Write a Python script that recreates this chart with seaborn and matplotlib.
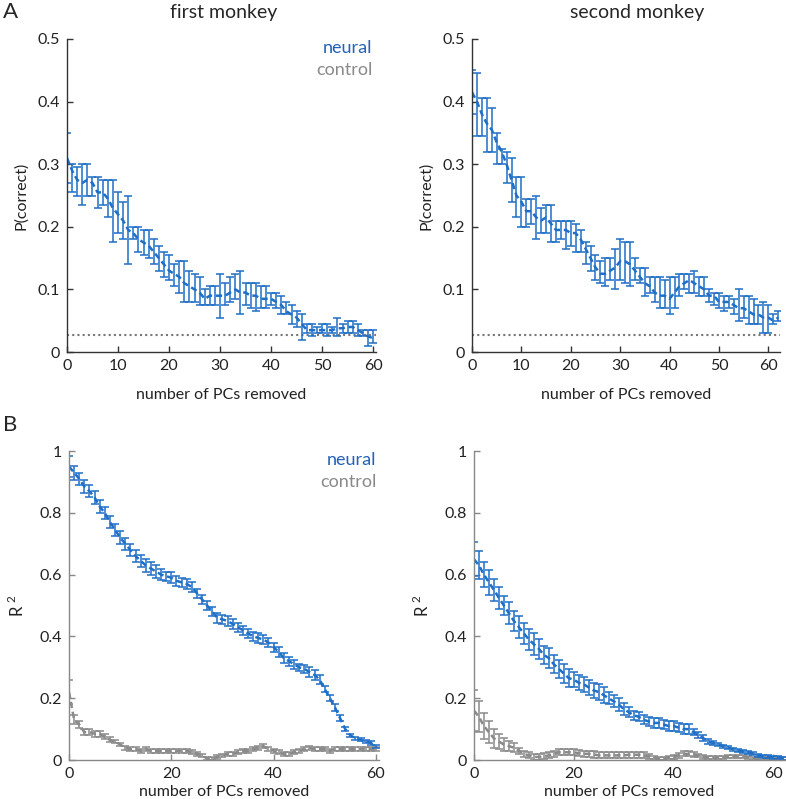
import numpy as np
import pandas as pd
import matplotlib
matplotlib.use("Agg")
import matplotlib.pyplot as plt
import seaborn as sns

sns.set_style("ticks")
plt.rcParams['font.family'] = ['Lato', 'DejaVu Sans']
plt.rcParams['mathtext.fontset'] = 'custom'
plt.rcParams['mathtext.rm'] = 'Lato'

BLUE = "#1f6fc6"
GRAY = "#8a8a8a"
CHANCE = 1 / 36

# ==================== A: P(correct), first monkey ====================
pc1_mean = [0.31, 0.29, 0.275, 0.27, 0.275, 0.27, 0.255, 0.255, 0.245, 0.23,
            0.22, 0.21, 0.195, 0.19, 0.18, 0.175, 0.17, 0.16, 0.15, 0.14,
            0.13, 0.125, 0.12, 0.11, 0.105, 0.10, 0.095, 0.085, 0.09, 0.09,
            0.09, 0.09, 0.095, 0.10, 0.095, 0.095, 0.09, 0.09, 0.085, 0.085,
            0.085, 0.08, 0.075, 0.065, 0.06, 0.055, 0.045, 0.035, 0.035, 0.035,
            0.035, 0.035, 0.035, 0.038, 0.038, 0.04, 0.04, 0.035, 0.03, 0.025,
            0.022]
pc1_lo = [0.27, 0.255, 0.25, 0.235, 0.25, 0.25, 0.23, 0.235, 0.215, 0.175,
          0.19, 0.18, 0.14, 0.18, 0.16, 0.155, 0.15, 0.14, 0.13, 0.12,
          0.115, 0.105, 0.095, 0.08, 0.08, 0.08, 0.075, 0.075, 0.075, 0.075,
          0.055, 0.075, 0.08, 0.085, 0.06, 0.075, 0.07, 0.065, 0.07, 0.07,
          0.075, 0.07, 0.06, 0.06, 0.045, 0.04, 0.02, 0.03, 0.025, 0.03,
          0.03, 0.025, 0.03, 0.025, 0.03, 0.03, 0.03, 0.025, 0.025, 0.01,
          0.015]
pc1_hi = [0.35, 0.30, 0.295, 0.30, 0.30, 0.28, 0.28, 0.275, 0.275, 0.275,
          0.255, 0.24, 0.25, 0.20, 0.20, 0.195, 0.195, 0.18, 0.17, 0.16,
          0.155, 0.14, 0.145, 0.145, 0.13, 0.125, 0.12, 0.10, 0.105, 0.105,
          0.125, 0.11, 0.12, 0.125, 0.13, 0.11, 0.11, 0.11, 0.105, 0.105,
          0.095, 0.095, 0.09, 0.08, 0.075, 0.065, 0.06, 0.045, 0.045, 0.04,
          0.045, 0.045, 0.04, 0.055, 0.045, 0.05, 0.05, 0.045, 0.035, 0.035,
          0.035]

# ==================== A: P(correct), second monkey ====================
pc2_mean = [0.415, 0.40, 0.38, 0.365, 0.355, 0.335, 0.32, 0.30, 0.275, 0.25,
            0.24, 0.225, 0.225, 0.215, 0.21, 0.215, 0.205, 0.195, 0.195, 0.195,
            0.19, 0.19, 0.18, 0.165, 0.15, 0.135, 0.125, 0.125, 0.13, 0.135,
            0.145, 0.145, 0.14, 0.13, 0.12, 0.11, 0.105, 0.095, 0.09, 0.09,
            0.085, 0.095, 0.105, 0.11, 0.115, 0.11, 0.105, 0.10, 0.09, 0.09,
            0.08, 0.08, 0.08, 0.075, 0.07, 0.07, 0.065, 0.06, 0.06, 0.055,
            0.055, 0.05, 0.055]
pc2_lo = [0.38, 0.345, 0.345, 0.32, 0.32, 0.30, 0.30, 0.27, 0.24, 0.215,
          0.20, 0.20, 0.205, 0.18, 0.19, 0.19, 0.175, 0.175, 0.18, 0.165,
          0.17, 0.16, 0.16, 0.14, 0.13, 0.115, 0.11, 0.105, 0.115, 0.10,
          0.115, 0.11, 0.105, 0.115, 0.11, 0.09, 0.095, 0.08, 0.07, 0.07,
          0.06, 0.07, 0.09, 0.10, 0.095, 0.095, 0.09, 0.09, 0.08, 0.075,
          0.07, 0.065, 0.07, 0.06, 0.05, 0.055, 0.045, 0.045, 0.045, 0.03,
          0.03, 0.045, 0.05]
pc2_hi = [0.45, 0.445, 0.405, 0.405, 0.39, 0.35, 0.325, 0.32, 0.31, 0.28,
          0.28, 0.245, 0.245, 0.25, 0.23, 0.235, 0.235, 0.21, 0.21, 0.21,
          0.21, 0.205, 0.195, 0.175, 0.17, 0.155, 0.145, 0.15, 0.15, 0.165,
          0.18, 0.175, 0.175, 0.15, 0.135, 0.135, 0.12, 0.12, 0.12, 0.115,
          0.12, 0.12, 0.125, 0.125, 0.125, 0.13, 0.12, 0.12, 0.10, 0.095,
          0.095, 0.09, 0.09, 0.085, 0.10, 0.09, 0.09, 0.085, 0.075, 0.08,
          0.075, 0.06, 0.065]

# ==================== B: R^2, first monkey ====================
r1_neural = [0.95, 0.93, 0.91, 0.885, 0.87, 0.85, 0.82, 0.80, 0.77, 0.745,
             0.72, 0.70, 0.68, 0.66, 0.645, 0.63, 0.62, 0.61, 0.60, 0.595,
             0.59, 0.58, 0.575, 0.57, 0.56, 0.54, 0.52, 0.50, 0.48, 0.46,
             0.455, 0.45, 0.44, 0.43, 0.42, 0.41, 0.40, 0.395, 0.39, 0.38,
             0.365, 0.35, 0.33, 0.32, 0.31, 0.30, 0.295, 0.285, 0.275, 0.26,
             0.23, 0.20, 0.17, 0.135, 0.10, 0.08, 0.07, 0.065, 0.06, 0.055,
             0.045]
r1_neural_err = [0.033, 0.023, 0.02, 0.022, 0.02, 0.02, 0.02, 0.02, 0.02, 0.02,
                 0.02, 0.02, 0.02, 0.02, 0.02, 0.02, 0.02, 0.02, 0.018, 0.015,
                 0.017, 0.017, 0.015, 0.015, 0.017, 0.015, 0.015, 0.015, 0.015, 0.015,
                 0.015, 0.015, 0.015, 0.015, 0.015, 0.015, 0.015, 0.015, 0.015, 0.015,
                 0.015, 0.015, 0.015, 0.015, 0.015, 0.012, 0.012, 0.015, 0.015, 0.015,
                 0.01, 0.01, 0.01, 0.01, 0.006, 0.005, 0.005, 0.005, 0.005, 0.005,
                 0.005]
r1_control = [0.22, 0.13, 0.115, 0.09, 0.09, 0.085, 0.085, 0.075, 0.065, 0.06,
              0.05, 0.04, 0.035, 0.035, 0.03, 0.035, 0.03, 0.03, 0.03, 0.03,
              0.03, 0.03, 0.03, 0.03, 0.025, 0.02, 0.015, 0.005, 0.005, 0.01,
              0.015, 0.02, 0.02, 0.025, 0.03, 0.03, 0.035, 0.04, 0.045, 0.035,
              0.03, 0.025, 0.02, 0.02, 0.025, 0.03, 0.035, 0.04, 0.035, 0.035,
              0.035, 0.03, 0.035, 0.035, 0.035, 0.035, 0.035, 0.035, 0.035, 0.035,
              0.035]
r1_control_err = [0.04, 0.015, 0.01, 0.01, 0.01, 0.01, 0.01, 0.008, 0.008, 0.006,
                  0.006, 0.006, 0.006, 0.006, 0.006, 0.006, 0.006, 0.006, 0.006, 0.006,
                  0.006, 0.006, 0.006, 0.006, 0.006, 0.006, 0.006, 0.006, 0.006, 0.006,
                  0.006, 0.006, 0.006, 0.006, 0.006, 0.006, 0.006, 0.006, 0.006, 0.006,
                  0.006, 0.006, 0.006, 0.006, 0.006, 0.006, 0.006, 0.006, 0.006, 0.006,
                  0.006, 0.006, 0.006, 0.006, 0.006, 0.006, 0.006, 0.006, 0.006, 0.006,
                  0.006]

# ==================== B: R^2, second monkey ====================
r2_neural = [0.65, 0.63, 0.60, 0.575, 0.55, 0.525, 0.50, 0.475, 0.45, 0.43,
             0.41, 0.39, 0.375, 0.36, 0.34, 0.33, 0.31, 0.295, 0.28, 0.265,
             0.26, 0.25, 0.245, 0.235, 0.225, 0.22, 0.21, 0.20, 0.19, 0.18,
             0.165, 0.155, 0.145, 0.14, 0.13, 0.125, 0.12, 0.12, 0.115, 0.11,
             0.11, 0.105, 0.10, 0.10, 0.09, 0.08, 0.07, 0.06, 0.055, 0.05,
             0.045, 0.04, 0.035, 0.03, 0.028, 0.025, 0.02, 0.015, 0.012, 0.01,
             0.008, 0.007, 0.006]
r2_neural_err = [0.055, 0.045, 0.04, 0.04, 0.035, 0.035, 0.03, 0.035, 0.033, 0.035,
                 0.035, 0.033, 0.035, 0.033, 0.03, 0.033, 0.03, 0.03, 0.03, 0.03,
                 0.025, 0.025, 0.025, 0.025, 0.025, 0.025, 0.025, 0.02, 0.02, 0.02,
                 0.018, 0.015, 0.015, 0.015, 0.015, 0.015, 0.015, 0.015, 0.015, 0.015,
                 0.015, 0.015, 0.015, 0.015, 0.01, 0.01, 0.01, 0.008, 0.006, 0.005,
                 0.005, 0.005, 0.005, 0.005, 0.005, 0.005, 0.005, 0.005, 0.005, 0.005,
                 0.005, 0.005, 0.005]
r2_control = [0.16, 0.14, 0.11, 0.09, 0.07, 0.06, 0.05, 0.045, 0.04, 0.03,
              0.02, 0.015, 0.01, 0.01, 0.012, 0.015, 0.02, 0.025, 0.025, 0.025,
              0.025, 0.022, 0.02, 0.02, 0.018, 0.015, 0.015, 0.015, 0.015, 0.015,
              0.015, 0.017, 0.017, 0.017, 0.015, 0.012, 0.008, 0.005, 0.005, 0.008,
              0.01, 0.015, 0.02, 0.02, 0.018, 0.015, 0.01, 0.008, 0.007, 0.007,
              0.008, 0.01, 0.01, 0.01, 0.01, 0.008, 0.006, 0.005, 0.005, 0.005,
              0.005, 0.005, 0.005]
r2_control_err = [0.065, 0.05, 0.043, 0.035, 0.03, 0.025, 0.02, 0.015, 0.015, 0.01,
                  0.01, 0.01, 0.01, 0.01, 0.01, 0.01, 0.01, 0.01, 0.01, 0.01,
                  0.01, 0.01, 0.01, 0.01, 0.01, 0.01, 0.01, 0.01, 0.01, 0.01,
                  0.01, 0.01, 0.01, 0.01, 0.01, 0.008, 0.006, 0.005, 0.005, 0.006,
                  0.006, 0.008, 0.008, 0.008, 0.008, 0.006, 0.006, 0.005, 0.005, 0.005,
                  0.005, 0.005, 0.005, 0.005, 0.005, 0.005, 0.005, 0.005, 0.005, 0.005,
                  0.005, 0.005, 0.005]


def draw_series(ax, mean, lo, hi, color):
    x = np.arange(len(mean))
    df = pd.DataFrame({"pcs": x, "val": mean})
    sns.lineplot(data=df, x="pcs", y="val", ax=ax, color=color,
                 lw=1.8, linestyle=(0, (2.5, 1.5)))
    mean = np.asarray(mean)
    yerr = [mean - np.asarray(lo), np.asarray(hi) - mean]
    ax.errorbar(x, mean, yerr=yerr, fmt='none', ecolor=color,
                elinewidth=1.1, capsize=3, capthick=1.1)


def style_axes(ax, spine_color):
    sns.despine(ax=ax)
    for s in ("left", "bottom"):
        ax.spines[s].set_color(spine_color)
        ax.spines[s].set_linewidth(1.0)
    ax.tick_params(direction='in', length=4, width=1, color=spine_color,
                   labelsize=11.5, labelcolor="#222222", pad=5)
    ax.yaxis.set_major_formatter(plt.FormatStrFormatter('%g'))
    ax.set_xlabel("number of PCs removed", fontsize=11.5, color="#222222")


fig = plt.figure(figsize=(7.86, 7.99), dpi=100)

# A panels
ax1 = fig.add_axes([0.0852, 0.5594, 0.3928, 0.3918])
ax2 = fig.add_axes([0.6005, 0.5594, 0.3915, 0.3918])
# B panels
ax3 = fig.add_axes([0.0878, 0.0488, 0.3950, 0.3867])
ax4 = fig.add_axes([0.6030, 0.0488, 0.3955, 0.3867])

draw_series(ax1, pc1_mean, pc1_lo, pc1_hi, BLUE)
draw_series(ax2, pc2_mean, pc2_lo, pc2_hi, BLUE)
for ax, n_max, ticks in [(ax1, 60.5, range(0, 61, 10)), (ax2, 62.3, range(0, 61, 10))]:
    ax.axhline(CHANCE, color="#777777", lw=1.5, linestyle=(0, (1, 1.5)), zorder=0)
    ax.set_xlim(0, n_max)
    ax.set_ylim(0, 0.5)
    ax.set_xticks(list(ticks))
    ax.set_yticks([0, 0.1, 0.2, 0.3, 0.4, 0.5])
    style_axes(ax, "#333333")
    ax.set_ylabel("P(correct)", fontsize=11.5, color="#222222", labelpad=7)
    ax.xaxis.labelpad = 11

r1n = np.asarray(r1_neural); r1ne = np.asarray(r1_neural_err)
r1c = np.asarray(r1_control); r1ce = np.asarray(r1_control_err)
r2n = np.asarray(r2_neural); r2ne = np.asarray(r2_neural_err)
r2c = np.asarray(r2_control); r2ce = np.asarray(r2_control_err)
draw_series(ax3, r1c, r1c - r1ce, r1c + r1ce, GRAY)
draw_series(ax3, r1n, r1n - r1ne, r1n + r1ne, BLUE)
draw_series(ax4, r2c, r2c - r2ce, r2c + r2ce, GRAY)
draw_series(ax4, r2n, r2n - r2ne, r2n + r2ne, BLUE)
for ax, n_max in [(ax3, 60.7), (ax4, 62.3)]:
    ax.set_xlim(0, n_max)
    ax.set_ylim(0, 1)
    ax.set_xticks([0, 20, 40, 60])
    ax.set_yticks([0, 0.2, 0.4, 0.6, 0.8, 1])
    style_axes(ax, "#888888")
    ax.set_ylabel(r"R$^{\ 2}$", fontsize=12, color="#222222", labelpad=9)
    ax.xaxis.labelpad = 3

# legends as coloured text
for ax in (ax1, ax3):
    ax.text(0.99, 0.97, "neural", transform=ax.transAxes, ha='right', va='center',
            color="#2262b8", fontsize=13)
    ax.text(0.99, 0.90, "control", transform=ax.transAxes, ha='right', va='center',
            color="#8a8a8a", fontsize=13)

fig.text(0.284, 0.984, "first monkey", ha='center', va='center', fontsize=14)
fig.text(0.811, 0.984, "second monkey", ha='center', va='center', fontsize=14)
fig.text(0.004, 0.985, "A", ha='left', va='center', fontsize=16)
fig.text(0.004, 0.468, "B", ha='left', va='center', fontsize=16)

fig.savefig("out.png", dpi=100)
